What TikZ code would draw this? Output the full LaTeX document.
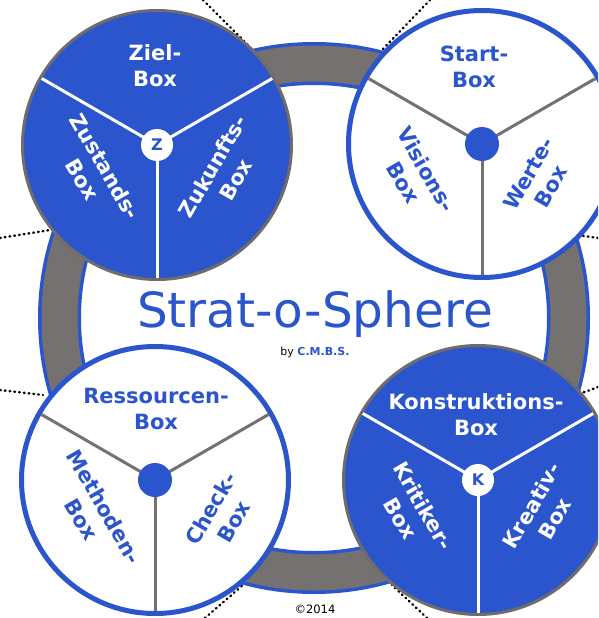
\documentclass[tikz,border=0pt]{standalone}
\usepackage{fontspec}
\setmainfont{DejaVu Sans}
\definecolor{sblue}{RGB}{43,85,204}
\definecolor{sgray}{RGB}{118,113,113}
\definecolor{bgray}{RGB}{112,108,108}
\begin{document}
\begin{tikzpicture}[x=1pt,y=-1pt,
  ring/.style={circle, inner sep=0, minimum size=509pt, draw=sblue, line width=3.5pt, double=sgray, double distance=36pt},
  darkdisc/.style={circle, inner sep=0, outer sep=0, minimum size=269pt, fill=sblue, draw=bgray, line width=3pt},
  litedisc/.style={circle, inner sep=0, outer sep=0, minimum size=267pt, fill=white, draw=sblue, line width=5pt},
  wspoke/.style={draw=white, line width=3pt, shorten >=1.5pt},
  gspoke/.style={draw=sgray, line width=3pt, shorten >=2.5pt},
  hubletter/.style={circle, fill=white, inner sep=0, minimum size=32pt, text=sblue, font=\bfseries\fontsize{16}{16}\selectfont},
  hubdot/.style={circle, fill=sblue, inner sep=0, minimum size=34pt},
  dlabel/.style={text=white, align=center, inner sep=0, font=\bfseries\fontsize{21}{26}\selectfont},
  llabel/.style={text=sblue, align=center, inner sep=0, font=\bfseries\fontsize{21}{26}\selectfont},
  dots/.style={draw=black, line width=2.4pt, line cap=round, dash pattern=on 0.8pt off 4pt},
]
\clip (0,0) rectangle (598,618);
\fill[white] (0,0) rectangle (598,618);
\node[ring] (ring) at (314,318) {};

% dotted lines
\coordinate (d1a) at (203,0);   \coordinate (d1b) at (248,45);
\coordinate (d2a) at (430,0);   \coordinate (d2b) at (382,50);
\coordinate (d3a) at (0,238);   \coordinate (d3b) at (50,230);
\coordinate (d4a) at (0,390);   \coordinate (d4b) at (43,395);
\coordinate (d5a) at (598,238); \coordinate (d5b) at (577,235);
\coordinate (d6a) at (598,387); \coordinate (d6b) at (582,393);
\coordinate (d7a) at (205,618); \coordinate (d7b) at (243,585);
\coordinate (d8a) at (427,618); \coordinate (d8b) at (392,585);
\foreach \i in {1,...,8} \draw[dots] (d\i a) -- (d\i b);

% Z circle (top left)
\node[darkdisc] (z) at (157,145) {};
\draw[wspoke] (z.center) -- (z.150);
\draw[wspoke] (z.center) -- (z.30);
\draw[wspoke] (z.center) -- (z.270);
\node[hubletter] (zhub) at (z) {Z};
\node[dlabel] (ztop) at ([shift={(-2,-79)}]z.center) {Ziel-\\Box};
\node[dlabel, rotate=-60] (zleft) at ([shift={(-63,28)}]z.center) {Zustands-\\Box};
\node[dlabel, rotate=60] (zright) at ([shift={(67,28)}]z.center) {Zukunfts-\\Box};

% Start circle (top right)
\node[litedisc] (s) at (482,144) {};
\draw[gspoke] (s.center) -- (s.150);
\draw[gspoke] (s.center) -- (s.30);
\draw[gspoke] (s.center) -- (s.270);
\node[hubdot] (shub) at (s) {};
\node[llabel] (stop) at ([shift={(-8,-77)}]s.center) {Start-\\Box};
\node[llabel, rotate=-60] (sleft) at ([shift={(-67,32)}]s.center) {Visions-\\Box};
\node[llabel, rotate=60] (sright) at ([shift={(58,36)}]s.center) {Werte-\\Box};

% Ressourcen circle (bottom left)
\node[litedisc] (r) at (155,480) {};
\draw[gspoke] (r.center) -- (r.150);
\draw[gspoke] (r.center) -- (r.30);
\draw[gspoke] (r.center) -- (r.270);
\node[hubdot] (rhub) at (r) {};
\node[llabel] (rtop) at ([shift={(1,-71)}]r.center) {Ressourcen-\\Box};
\node[llabel, rotate=-60] (rleft) at ([shift={(-62,33)}]r.center) {Methoden-\\Box};
\node[llabel, rotate=60] (rright) at ([shift={(67,35)}]r.center) {Check-\\Box};

% K circle (bottom right)
\node[darkdisc] (k) at (478,480) {};
\draw[wspoke] (k.center) -- (k.150);
\draw[wspoke] (k.center) -- (k.30);
\draw[wspoke] (k.center) -- (k.270);
\node[hubletter] (khub) at (k) {K};
\node[dlabel] (ktop) at ([shift={(-2,-65)}]k.center) {Konstruktions-\\Box};
\node[dlabel, rotate=-60] (kleft) at ([shift={(-66,32)}]k.center) {Kritiker-\\Box};
\node[dlabel, rotate=60] (kright) at ([shift={(65,32)}]k.center) {Kreativ-\\Box};

% title
\node[text=sblue, anchor=base, inner sep=0, font=\fontsize{48.5}{48.5}\selectfont] (title) at (315,327) {Strat-o-Sphere};
\node[anchor=base, inner sep=0, font=\fontsize{11}{11}\selectfont] (by) at (315,355) {by \textcolor{sblue}{\bfseries C.M.B.S.}};
\node[anchor=base, inner sep=0, font=\fontsize{11.5}{11.5}\selectfont] (copy) at (315,613) {©2014};
\end{tikzpicture}
\end{document}
